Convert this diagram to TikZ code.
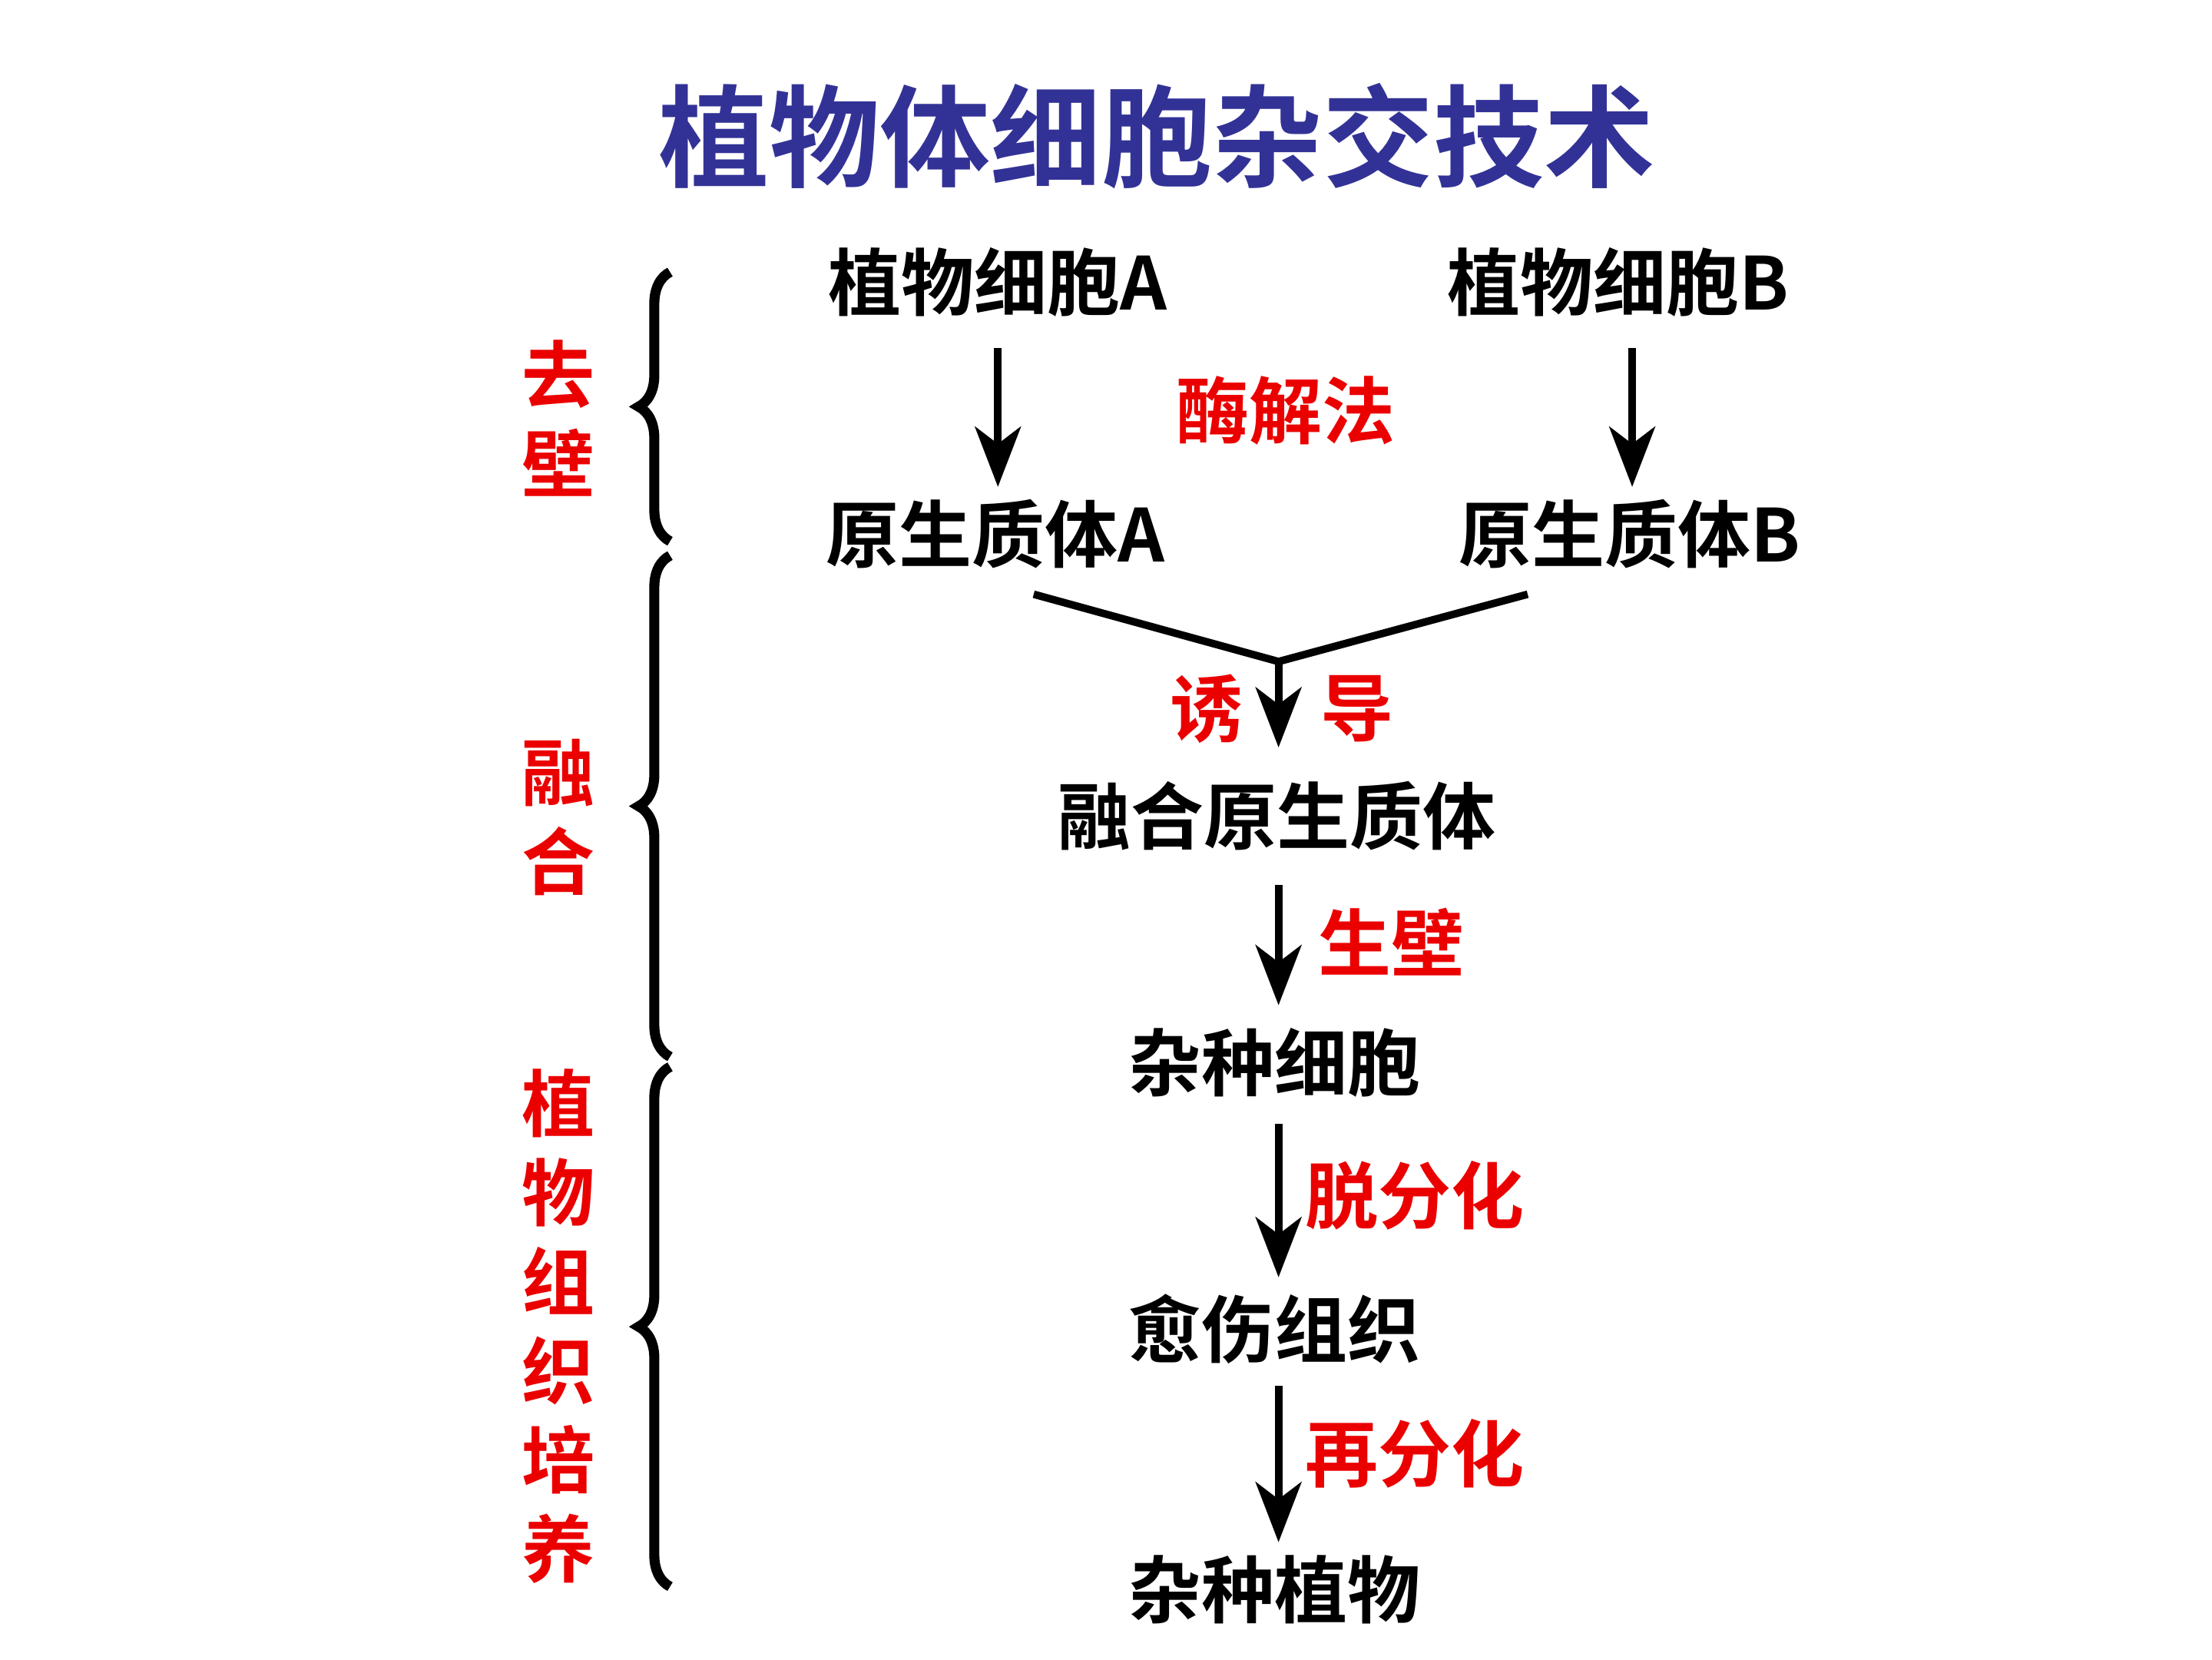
\documentclass[tikz,border=0pt]{standalone}
\usepackage{fontspec}
\newfontfamily\cjk{Noto Sans CJK SC}[BoldFont={* Bold}]
\usetikzlibrary{positioning,arrows.meta,decorations.pathreplacing}
\definecolor{ptBlue}{RGB}{50,50,150}
\definecolor{ptRed}{RGB}{235,0,0}

\begin{document}
\begin{tikzpicture}[
  txt/.style={font=\cjk\bfseries\fontsize{14.5}{17}\selectfont, inner sep=0pt},
  lbl/.style={txt, text=ptRed},
  flow/.style={line width=1.5pt, -{Stealth[length=4.2mm,width=3.2mm,inset=1.2mm]}},
  brc/.style={line width=2pt, decorate, decoration={brace, amplitude=0.22cm}}
]
  \useasboundingbox (0,0) rectangle (15.45,11.59);
  % title
  \node[txt, text=ptBlue, font=\cjk\bfseries\fontsize{22}{26}\selectfont] (title) at (8.08,10.64) {植物体细胞杂交技术};

  % steps
  \node[txt] (cellA) at (6.97,9.62) {植物细胞A};
  \node[txt] (cellB) at (11.30,9.62) {植物细胞B};
  \node[txt] (protA) at (6.95,7.86) {原生质体A};
  \node[txt] (protB) at (11.38,7.86) {原生质体B};
  \node[txt] (fused) at (8.92,5.89) {融合原生质体};
  \node[txt] (hybrid) at (8.90,4.17) {杂种细胞};
  \node[txt] (callus) at (8.90,2.31) {愈伤组织};
  \node[txt] (plant) at (8.90,0.49) {杂种植物};

  % connectors
  \coordinate (join) at (8.93,6.97);
  \draw[flow] (6.97,9.16) -- (6.97,8.19);
  \draw[flow] (11.40,9.16) -- (11.40,8.19);
  \draw[line width=1.5pt] (7.22,7.44) -- (join) -- (10.67,7.44);
  \draw[flow] (join) -- (8.93,6.37);
  \draw[flow] (8.93,5.41) -- (8.93,4.57);
  \draw[flow] (8.93,3.74) -- (8.93,2.67);
  \draw[flow] (8.93,1.91) -- (8.93,0.82);

  % step labels
  \node[lbl] (enz) at (8.98,8.72) {酶解法};
  \node[lbl] (ind1) at (8.43,6.64) {诱};
  \node[lbl] (ind2) at (9.48,6.64) {导};
  \node[lbl] (wall) at (9.72,5.01) {生壁};
  \node[lbl] (dedif) at (9.88,3.24) {脱分化};
  \node[lbl] (redif) at (9.88,1.44) {再分化};

  % braces
  \draw[brc] (4.68,7.81) -- (4.68,9.69);
  \draw[brc] (4.68,4.21) -- (4.68,7.71);
  \draw[brc] (4.68,0.51) -- (4.68,4.14);

  % stage labels
  \node[lbl, align=center, font=\cjk\bfseries\fontsize{14.5}{17.7}\selectfont] (st1) at (3.90,8.67) {去\\壁};
  \node[lbl, align=center, font=\cjk\bfseries\fontsize{14.5}{17.7}\selectfont] (st2) at (3.90,5.88) {融\\合};
  \node[lbl, align=center, font=\cjk\bfseries\fontsize{14.5}{17.7}\selectfont] (st3) at (3.90,2.33) {植\\物\\组\\织\\培\\养};
\end{tikzpicture}
\end{document}
